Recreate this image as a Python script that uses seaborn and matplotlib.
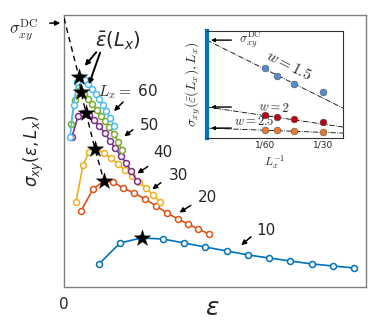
import numpy as np
import pandas as pd
import matplotlib
matplotlib.use('Agg')
import matplotlib.pyplot as plt
import seaborn as sns

sns.set_style('white')
plt.rcParams['font.family'] = ['DejaVu Sans']

# curves sigma_xy(eps, Lx), one per system length
Lx_values = [10, 20, 30, 40, 50, 60]
colors = ['#0072BD', '#D95319', '#EDB120', '#7E2F8E', '#77AC30', '#4DBEEE']

eps_10 = [0.35, 0.56, 0.77, 0.99, 1.20, 1.41, 1.63, 1.84, 2.05, 2.26, 2.48, 2.69, 2.90]
sig_10 = [0.23, 0.44, 0.49, 0.48, 0.44, 0.40, 0.36, 0.32, 0.29, 0.26, 0.23, 0.21, 0.19]
eps_20 = [0.17, 0.29, 0.40, 0.49, 0.59, 0.70, 0.81, 0.92, 1.03, 1.14, 1.24, 1.34, 1.45]
sig_20 = [0.76, 0.98, 1.06, 1.05, 0.99, 0.94, 0.88, 0.81, 0.74, 0.68, 0.63, 0.58, 0.53]
eps_30 = [0.12, 0.19, 0.25, 0.32, 0.40, 0.47, 0.54, 0.61, 0.68, 0.75, 0.82, 0.89, 0.96]
sig_30 = [0.85, 1.22, 1.35, 1.38, 1.34, 1.29, 1.23, 1.17, 1.11, 1.05, 0.99, 0.92, 0.85]
eps_40 = [0.08, 0.14, 0.19, 0.25, 0.30, 0.35, 0.41, 0.46, 0.51, 0.57, 0.62, 0.67, 0.73]
sig_40 = [1.50, 1.71, 1.74, 1.72, 1.67, 1.61, 1.54, 1.46, 1.39, 1.31, 1.24, 1.16, 1.06]
eps_50 = [0.07, 0.11, 0.16, 0.20, 0.24, 0.28, 0.33, 0.37, 0.41, 0.45, 0.50, 0.54, 0.58]
sig_50 = [1.63, 1.87, 1.97, 1.93, 1.88, 1.83, 1.77, 1.71, 1.66, 1.60, 1.53, 1.45, 1.37]
eps_60 = [0.06, 0.095, 0.13, 0.17, 0.205, 0.24, 0.28, 0.315, 0.35, 0.385, 0.42, 0.46, 0.50]
sig_60 = [1.50, 1.82, 2.05, 2.10, 2.07, 2.03, 1.98, 1.93, 1.88, 1.82, 1.76, 1.69, 1.61]

# peak positions eps_bar(Lx) (stars), order 10..60
star_eps = [0.78, 0.40, 0.31, 0.22, 0.17, 0.15]
star_sig = [0.49, 1.06, 1.38, 1.74, 1.95, 2.10]
sigma_dc_main = 2.69

# inset: sigma at the peak vs 1/Lx
inv_L = [1/60, 1/50, 1/40, 1/30]
w_colors = ['#4f8fd1', '#c0000f', '#e8782a']
peak_w15 = [0.654, 0.579, 0.505, 0.430]
peak_w2 = [0.215, 0.196, 0.178, 0.150]
peak_w25 = [0.075, 0.075, 0.065, 0.056]
fit_dc = [0.916, 0.290, 0.093]      # extrapolated sigma_xy^DC
fit_slope = [-16.3, -4.8, -1.2]

curves = pd.concat([
    pd.DataFrame({'eps': e, 'sigma': s, 'Lx': L})
    for e, s, L in zip([eps_10, eps_20, eps_30, eps_40, eps_50, eps_60],
                       [sig_10, sig_20, sig_30, sig_40, sig_50, sig_60], Lx_values)
])

fig = plt.figure(figsize=(3.81, 3.21), dpi=100)
ax = fig.add_axes([0.168, 0.106, 0.793, 0.847])

for L, c in zip(Lx_values, colors):
    d = curves[curves['Lx'] == L]
    sns.lineplot(data=d, x='eps', y='sigma', color=c, lw=1.2, marker='o', ms=4.3,
                 mfc='white', mec=c, mew=1.1, estimator=None, ax=ax, zorder=3)

# dashed line through the peaks
sns.lineplot(x=[0] + star_eps[1:][::-1], y=[sigma_dc_main] + star_sig[1:][::-1],
             color='k', lw=1.0, linestyle=(0, (4, 3)), estimator=None, ax=ax, zorder=4)
sns.scatterplot(x=star_eps, y=star_sig, marker='*', s=150, color='k',
                edgecolor='k', linewidth=0.3, ax=ax, zorder=5)

ax.set_xlim(0, 3.02)
ax.set_ylim(0, 2.72)
ax.set_xticks([0])
ax.set_xticklabels(['0'], fontsize=11)
ax.set_yticks([])
ax.tick_params(axis='x', length=0, pad=7)
for sp in ax.spines.values():
    sp.set_color('#7f7f7f')
    sp.set_linewidth(1.0)
ax.set_xlabel(r'$\varepsilon$', fontsize=18)
ax.xaxis.set_label_coords(0.49, -0.035)
ax.set_ylabel(r'$\sigma_{xy}(\varepsilon, L_x)$', fontsize=12)
ax.yaxis.set_label_coords(-0.06, 0.5)

arrow = dict(arrowstyle='-|>', color='k', lw=1.1, mutation_scale=7)
ax.text(-0.40, 2.58, r'$\sigma_{xy}^{\mathrm{DC}}$', ha='center', va='center',
        fontsize=12, math_fontfamily='cm')
ax.annotate('', xy=(-0.01, 2.64), xytext=(-0.17, 2.64),
            arrowprops=arrow, annotation_clip=False)
ax.text(0.54, 2.46, r'$\bar{\varepsilon}(L_x)$', fontsize=14, ha='center', va='center')
ax.annotate('', xy=(0.19, 2.19), xytext=(0.34, 2.37), arrowprops=dict(arrow, lw=1.4))
ax.annotate('', xy=(0.24, 2.00), xytext=(0.37, 2.37), arrowprops=dict(arrow, lw=1.4))

lab_pos = [(2.02, 0.56), (1.43, 0.90), (1.14, 1.12), (0.99, 1.35), (0.85, 1.62), (0.64, 1.95)]
arr_from = [(1.89, 0.52), (1.29, 0.83), (0.99, 1.06), (0.86, 1.22), (0.71, 1.59), (0.61, 1.87)]
arr_to = [(1.75, 0.40), (1.13, 0.73), (0.86, 0.96), (0.71, 1.12), (0.58, 1.49), (0.48, 1.74)]
for L, p, a0, a1 in zip(Lx_values, lab_pos, arr_from, arr_to):
    txt = f'$L_x = $ {L}' if L == 60 else str(L)
    ax.text(p[0], p[1], txt, fontsize=11, ha='center', va='center', math_fontfamily='cm')
    ax.annotate('', xy=a1, xytext=a0, arrowprops=arrow)

# inset
ax_in = fig.add_axes([0.543, 0.570, 0.357, 0.333])
xfit = np.array([0, 0.039])
for pk, c, dc, k in zip([peak_w15, peak_w2, peak_w25], w_colors, fit_dc, fit_slope):
    sns.lineplot(x=xfit, y=dc + k * xfit, color='k', lw=0.6, linestyle='-.',
                 estimator=None, ax=ax_in)
    sns.scatterplot(x=inv_L, y=pk, color=c, s=24, edgecolor='#555555',
                    linewidth=0.4, ax=ax_in, zorder=3)
    ax_in.annotate('', xy=(0.0004, dc), xytext=(0.0078, dc),
                   arrowprops=dict(arrowstyle='-|>', color='k', lw=1.0, mutation_scale=5))

ax_in.set_xlim(0, 0.039)
ax_in.set_ylim(0, 1)
ax_in.set_xticks([1/60, 1/30])
ax_in.set_xticklabels(['1/60', '1/30'], fontsize=6.5)
ax_in.set_yticks([])
ax_in.tick_params(axis='x', direction='in', length=2, width=0.6, pad=2)
for sp in ax_in.spines.values():
    sp.set_color('#333333')
    sp.set_linewidth(0.8)
ax_in.spines['left'].set_color('#0072BD')
ax_in.spines['left'].set_linewidth(3)

ax_in.text(0.0092, 0.92, r'$\sigma_{xy}^{\mathrm{DC}}$', fontsize=9, ha='left', va='center',
           math_fontfamily='cm')
ax_in.text(0.0235, 0.68, r'$w=1.5$', fontsize=11, rotation=-27, ha='center', va='center',
           math_fontfamily='cm')
ax_in.text(0.0192, 0.285, r'$w=2$', fontsize=9, rotation=-4, ha='center', va='center',
           math_fontfamily='cm')
ax_in.text(0.0135, 0.155, r'$w=2.5$', fontsize=9, ha='center', va='center',
           math_fontfamily='cm')
ax_in.set_xlabel(r'$L_x^{-1}$', fontsize=8.5, math_fontfamily='cm', labelpad=2)
ax_in.set_ylabel(r'$\sigma_{xy}(\bar{\varepsilon}(L_x), L_x)$', fontsize=10,
                 math_fontfamily='cm', labelpad=3)

fig.savefig('out.png', dpi=100)
